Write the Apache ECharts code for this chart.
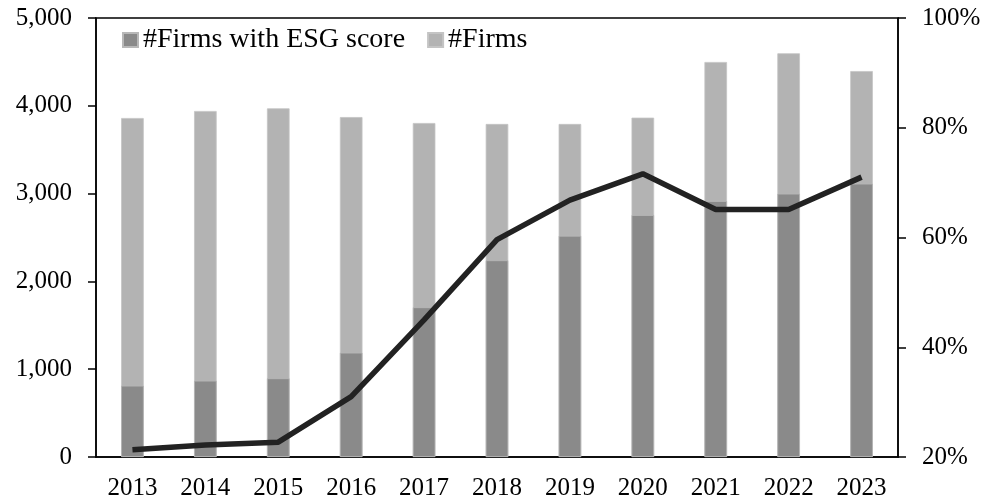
<!DOCTYPE html>
<html><head><meta charset="utf-8">
<script src="https://cdn.jsdelivr.net/npm/echarts@6/dist/echarts.min.js"></script>
<style>html,body{margin:0;padding:0;background:#fff}#c{width:985px;height:501px}</style>
</head><body><div id="c"></div>
<script>
const years = ['2013','2014','2015','2016','2017','2018','2019','2020','2021','2022','2023'];
const firmsESG = [812, 869, 896, 1188, 1705, 2240, 2520, 2756, 2916, 2999, 3113];
const firmsTotal = [3861, 3941, 3971, 3872, 3804, 3793, 3793, 3865, 4499, 4598, 4396];
const esgShare = [21.3, 22.2, 22.7, 31.0, 45.0, 59.6, 66.8, 71.6, 65.1, 65.1, 71.0];
const font = 'Liberation Serif';
const chart = echarts.init(document.getElementById('c'));
chart.setOption({
  animation: false,
  grid: {left: 96, right: 87, top: 18, bottom: 44, show: true, borderColor: '#000', borderWidth: 1.5, backgroundColor: 'transparent'},
  legend: {
    left: 117, top: 21, itemWidth: 15, itemHeight: 14, itemGap: 22,
    textStyle: {fontFamily: font, fontSize: 28, color: '#000'},
    data: [{name: '#Firms with ESG score', icon: 'rect'}, {name: '#Firms', icon: 'rect'}]
  },
  xAxis: {
    type: 'category', data: years,
    axisLine: {lineStyle: {color: '#000', width: 1.5}},
    axisTick: {show: false},
    axisLabel: {fontFamily: font, fontSize: 25, color: '#000', margin: 19}
  },
  yAxis: [{
    type: 'value', min: 0, max: 5000, interval: 1000,
    splitLine: {show: false},
    axisLine: {show: true, lineStyle: {color: '#000', width: 1.5}},
    axisTick: {show: true, length: 8, lineStyle: {color: '#000', width: 1.5}},
    axisLabel: {fontFamily: font, fontSize: 25, color: '#000', margin: 24,
      formatter: v => v.toLocaleString('en-US')}
  }, {
    type: 'value', min: 20, max: 100, interval: 20, position: 'right',
    splitLine: {show: false},
    axisLine: {show: true, lineStyle: {color: '#000', width: 1.5}},
    axisTick: {show: true, length: 8, lineStyle: {color: '#000', width: 1.5}},
    axisLabel: {fontFamily: font, fontSize: 25, color: '#000', margin: 24,
      formatter: v => v + '%'}
  }],
  series: [{
    name: '#Firms', type: 'bar', data: firmsTotal, barWidth: '31%', z: 1,
    itemStyle: {color: '#b3b3b3', borderColor: '#c4c4c4', borderWidth: 0.8}
  }, {
    name: '#Firms with ESG score', type: 'bar', data: firmsESG, barWidth: '31%', barGap: '-100%', z: 2,
    itemStyle: {color: '#8a8a8a', borderColor: '#b8b8b8', borderWidth: 0.8}
  }, {
    name: 'share', type: 'line', yAxisIndex: 1, data: esgShare, z: 3,
    symbol: 'none', lineStyle: {color: '#222', width: 5.5}
  }]
});
</script></body></html>
